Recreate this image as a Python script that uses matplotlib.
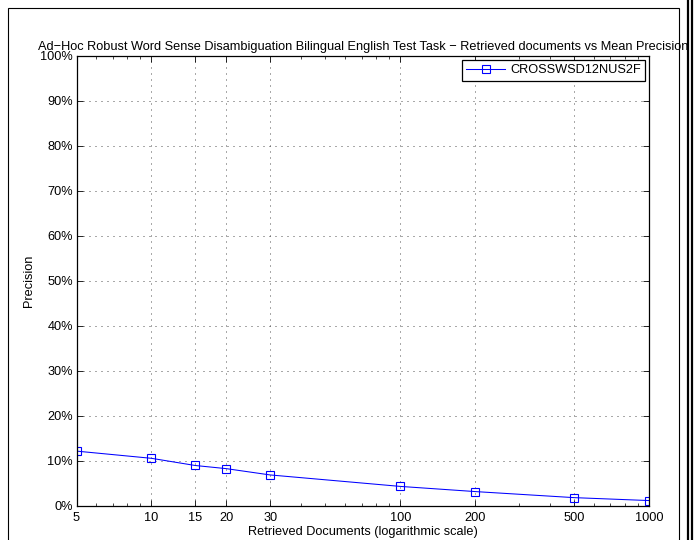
import matplotlib
matplotlib.use("Agg")
import matplotlib.pyplot as plt
from matplotlib.patches import Rectangle
from matplotlib.lines import Line2D
from matplotlib.ticker import FixedLocator, FixedFormatter, LogLocator, NullFormatter

plt.rcParams['font.family'] = ['Liberation Sans', 'DejaVu Sans']

docs = [5, 10, 15, 20, 30, 100, 200, 500, 1000]
precision = [12.1, 10.5, 8.9, 8.2, 6.8, 4.25, 3.1, 1.75, 1.1]
series_name = "CROSSWSD12NUS2F"
xtick_labels = ["5", "10", "15", "20", "30", "100", "200", "500", "1000"]
yticks = [0, 10, 20, 30, 40, 50, 60, 70, 80, 90, 100]
ytick_labels = [f"{v}%" for v in yticks]
title = ("Ad\u2212Hoc Robust Word Sense Disambiguation Bilingual English Test Task "
         "\u2212 Retrieved documents vs Mean Precision")

FS = 9.2
W, H = 694, 540
fig = plt.figure(figsize=(W / 100, H / 100), dpi=100)

# outer frame (clipped at bottom) and thick right lines
fig.add_artist(Rectangle((8 / W, -0.1), (679 - 8) / W, 1.1 - 8 / H, transform=fig.transFigure,
                         fill=False, edgecolor='black', linewidth=0.8))
for xp in (688, 692):
    fig.add_artist(Line2D([xp / W, xp / W], [0, 1], transform=fig.transFigure,
                          color='black', linewidth=1.6))

ax_left, ax_right, ax_top, ax_bottom = 76.5, 649, 56, 505.5
ax = fig.add_axes([ax_left / W, (H - ax_bottom) / H, (ax_right - ax_left) / W,
                   (ax_bottom - ax_top) / H])
ax.plot(docs, precision, color='blue', linewidth=0.75, marker='s', markersize=5.2,
        markerfacecolor='none', markeredgecolor='blue', markeredgewidth=0.8,
        label=series_name)
ax.set_xscale('log')
ax.set_xlim(5, 1000)
ax.set_ylim(0, 100)
ax.xaxis.set_major_locator(FixedLocator(docs))
ax.xaxis.set_major_formatter(FixedFormatter(xtick_labels))
ax.xaxis.set_minor_locator(LogLocator(base=10, subs=range(2, 10)))
ax.xaxis.set_minor_formatter(NullFormatter())
ax.set_yticks(yticks)
ax.set_yticklabels(ytick_labels)
ax.grid(True, which='major', color='#333333', linestyle=(0, (1.2, 6)), linewidth=0.6)
ax.tick_params(which='major', direction='in', length=4.2, width=0.6, top=True, right=True,
               labelsize=FS, colors='black')
ax.tick_params(which='minor', direction='in', length=2, width=0.5, top=True, bottom=True)
ax.tick_params(axis='x', pad=4.5)
ax.tick_params(axis='y', pad=2.5)
for s in ax.spines.values():
    s.set_linewidth(0.9)
ax.set_xlabel("Retrieved Documents (logarithmic scale)", fontsize=FS, labelpad=1.5)
ax.set_ylabel("Precision", fontsize=FS, labelpad=4)
ax.set_title(title, fontsize=FS, pad=4.5)
leg = ax.legend(loc='upper right', fontsize=FS, frameon=True, fancybox=False,
                edgecolor='black', framealpha=1, borderaxespad=0.3, handlelength=3.0,
                borderpad=0.35, handletextpad=0.4)
leg.get_frame().set_linewidth(0.9)

fig.savefig("out.png", dpi=100)
